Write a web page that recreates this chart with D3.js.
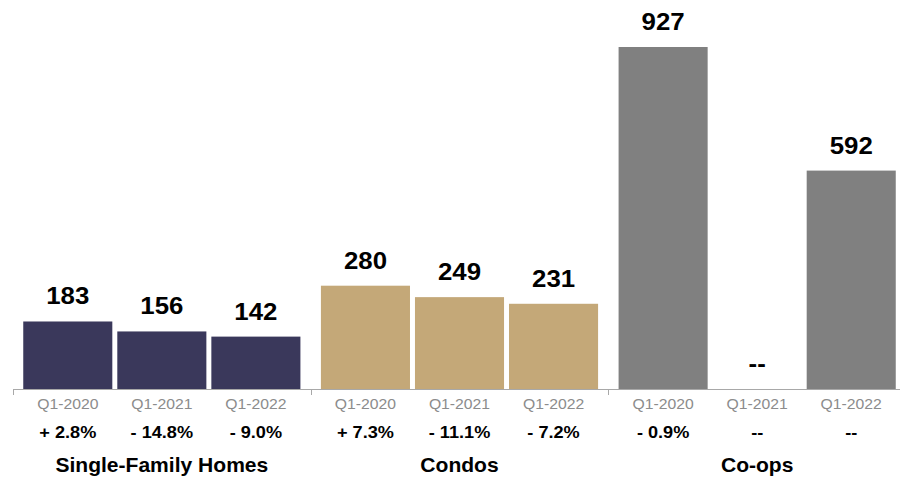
<!DOCTYPE html>
<html>
<head>
<meta charset="utf-8">
<script src="https://cdn.jsdelivr.net/npm/d3@7"></script>
<style>
  html, body { margin: 0; padding: 0; background: #fff; }
  svg { display: block; font-family: "Liberation Sans", Arial, Helvetica, sans-serif; }
</style>
</head>
<body>
<svg id="chart" width="900" height="478"></svg>
<script>
// Median values by property type and period
const groups = ["Single-Family Homes", "Condos", "Co-ops"];
const periods = ["Q1-2020", "Q1-2021", "Q1-2022"];
const sfhValues = [183, 156, 142];
const condoValues = [280, 249, 231];
const coopValues = [927, null, 592];
const sfhChange = ["+ 2.8%", "- 14.8%", "- 9.0%"];
const condoChange = ["+ 7.3%", "- 11.1%", "- 7.2%"];
const coopChange = ["- 0.9%", "--", "--"];
const groupColors = ["#3a385b", "#c4a878", "#808080"];

const seriesValues = [sfhValues, condoValues, coopValues];
const seriesChange = [sfhChange, condoChange, coopChange];

const rows = [];
groups.forEach((g, gi) => {
  periods.forEach((p, pi) => {
    rows.push({ group: g, gi, period: p, value: seriesValues[gi][pi], change: seriesChange[gi][pi] });
  });
});

const svg = d3.select("#chart");
const baseY = 389;

const x0 = d3.scaleBand().domain(groups).range([13, 906]).padding(0);
const x1 = d3.scaleBand().domain(periods).range([0, x0.bandwidth()])
  .paddingInner(0.053).paddingOuter(0.109);
const y = d3.scaleLinear().domain([0, 927]).range([baseY, 47]);
const cx = d => x0(d.group) + x1(d.period) + x1.bandwidth() / 2;

// Text set in a slightly widened face
const place = (px, py, sx) => `translate(${px},${py}) scale(${sx},1)`;

// Bars
const g = svg.append("g");
g.selectAll("rect")
  .data(rows.filter(d => d.value != null))
  .join("rect")
  .attr("x", d => x0(d.group) + x1(d.period))
  .attr("y", d => y(d.value))
  .attr("width", x1.bandwidth())
  .attr("height", d => y(0) - y(d.value))
  .attr("fill", d => groupColors[d.gi]);

// Value labels above bars
g.selectAll("text.val")
  .data(rows)
  .join("text")
  .attr("class", "val")
  .attr("transform", d => place(cx(d), y(d.value == null ? 0 : d.value) - 17, 1.09))
  .attr("text-anchor", "middle")
  .attr("font-size", 23.7)
  .attr("font-weight", "bold")
  .attr("fill", "#000")
  .text(d => d.value == null ? "--" : d.value);

// Baseline axis with group-boundary ticks
const axisColor = "#a8a8a8";
svg.append("line")
  .attr("x1", x0.range()[0]).attr("x2", 900)
  .attr("y1", baseY + 0.5).attr("y2", baseY + 0.5)
  .attr("stroke", axisColor).attr("stroke-width", 1);
svg.selectAll("line.tick")
  .data(groups)
  .join("line")
  .attr("class", "tick")
  .attr("x1", d => Math.round(x0(d)) + 0.5).attr("x2", d => Math.round(x0(d)) + 0.5)
  .attr("y1", baseY).attr("y2", baseY + 6)
  .attr("stroke", axisColor);

// Period labels
svg.selectAll("text.period")
  .data(rows)
  .join("text")
  .attr("class", "period")
  .attr("transform", d => place(cx(d), 409, 1.05))
  .attr("text-anchor", "middle")
  .attr("font-size", 15)
  .attr("fill", "#8c8c8c")
  .text(d => d.period);

// Change labels
svg.selectAll("text.change")
  .data(rows)
  .join("text")
  .attr("class", "change")
  .attr("transform", d => place(cx(d), 438, 1.1))
  .attr("text-anchor", "middle")
  .attr("font-size", 16.5)
  .attr("font-weight", "bold")
  .attr("fill", "#000")
  .text(d => d.change);

// Group titles
svg.selectAll("text.group")
  .data(groups)
  .join("text")
  .attr("class", "group")
  .attr("transform", d => place(x0(d) + x1(periods[1]) + x1.bandwidth() / 2, 472, 1.08))
  .attr("text-anchor", "middle")
  .attr("font-size", 19.5)
  .attr("font-weight", "bold")
  .attr("fill", "#000")
  .text(d => d);
</script>
</body>
</html>
